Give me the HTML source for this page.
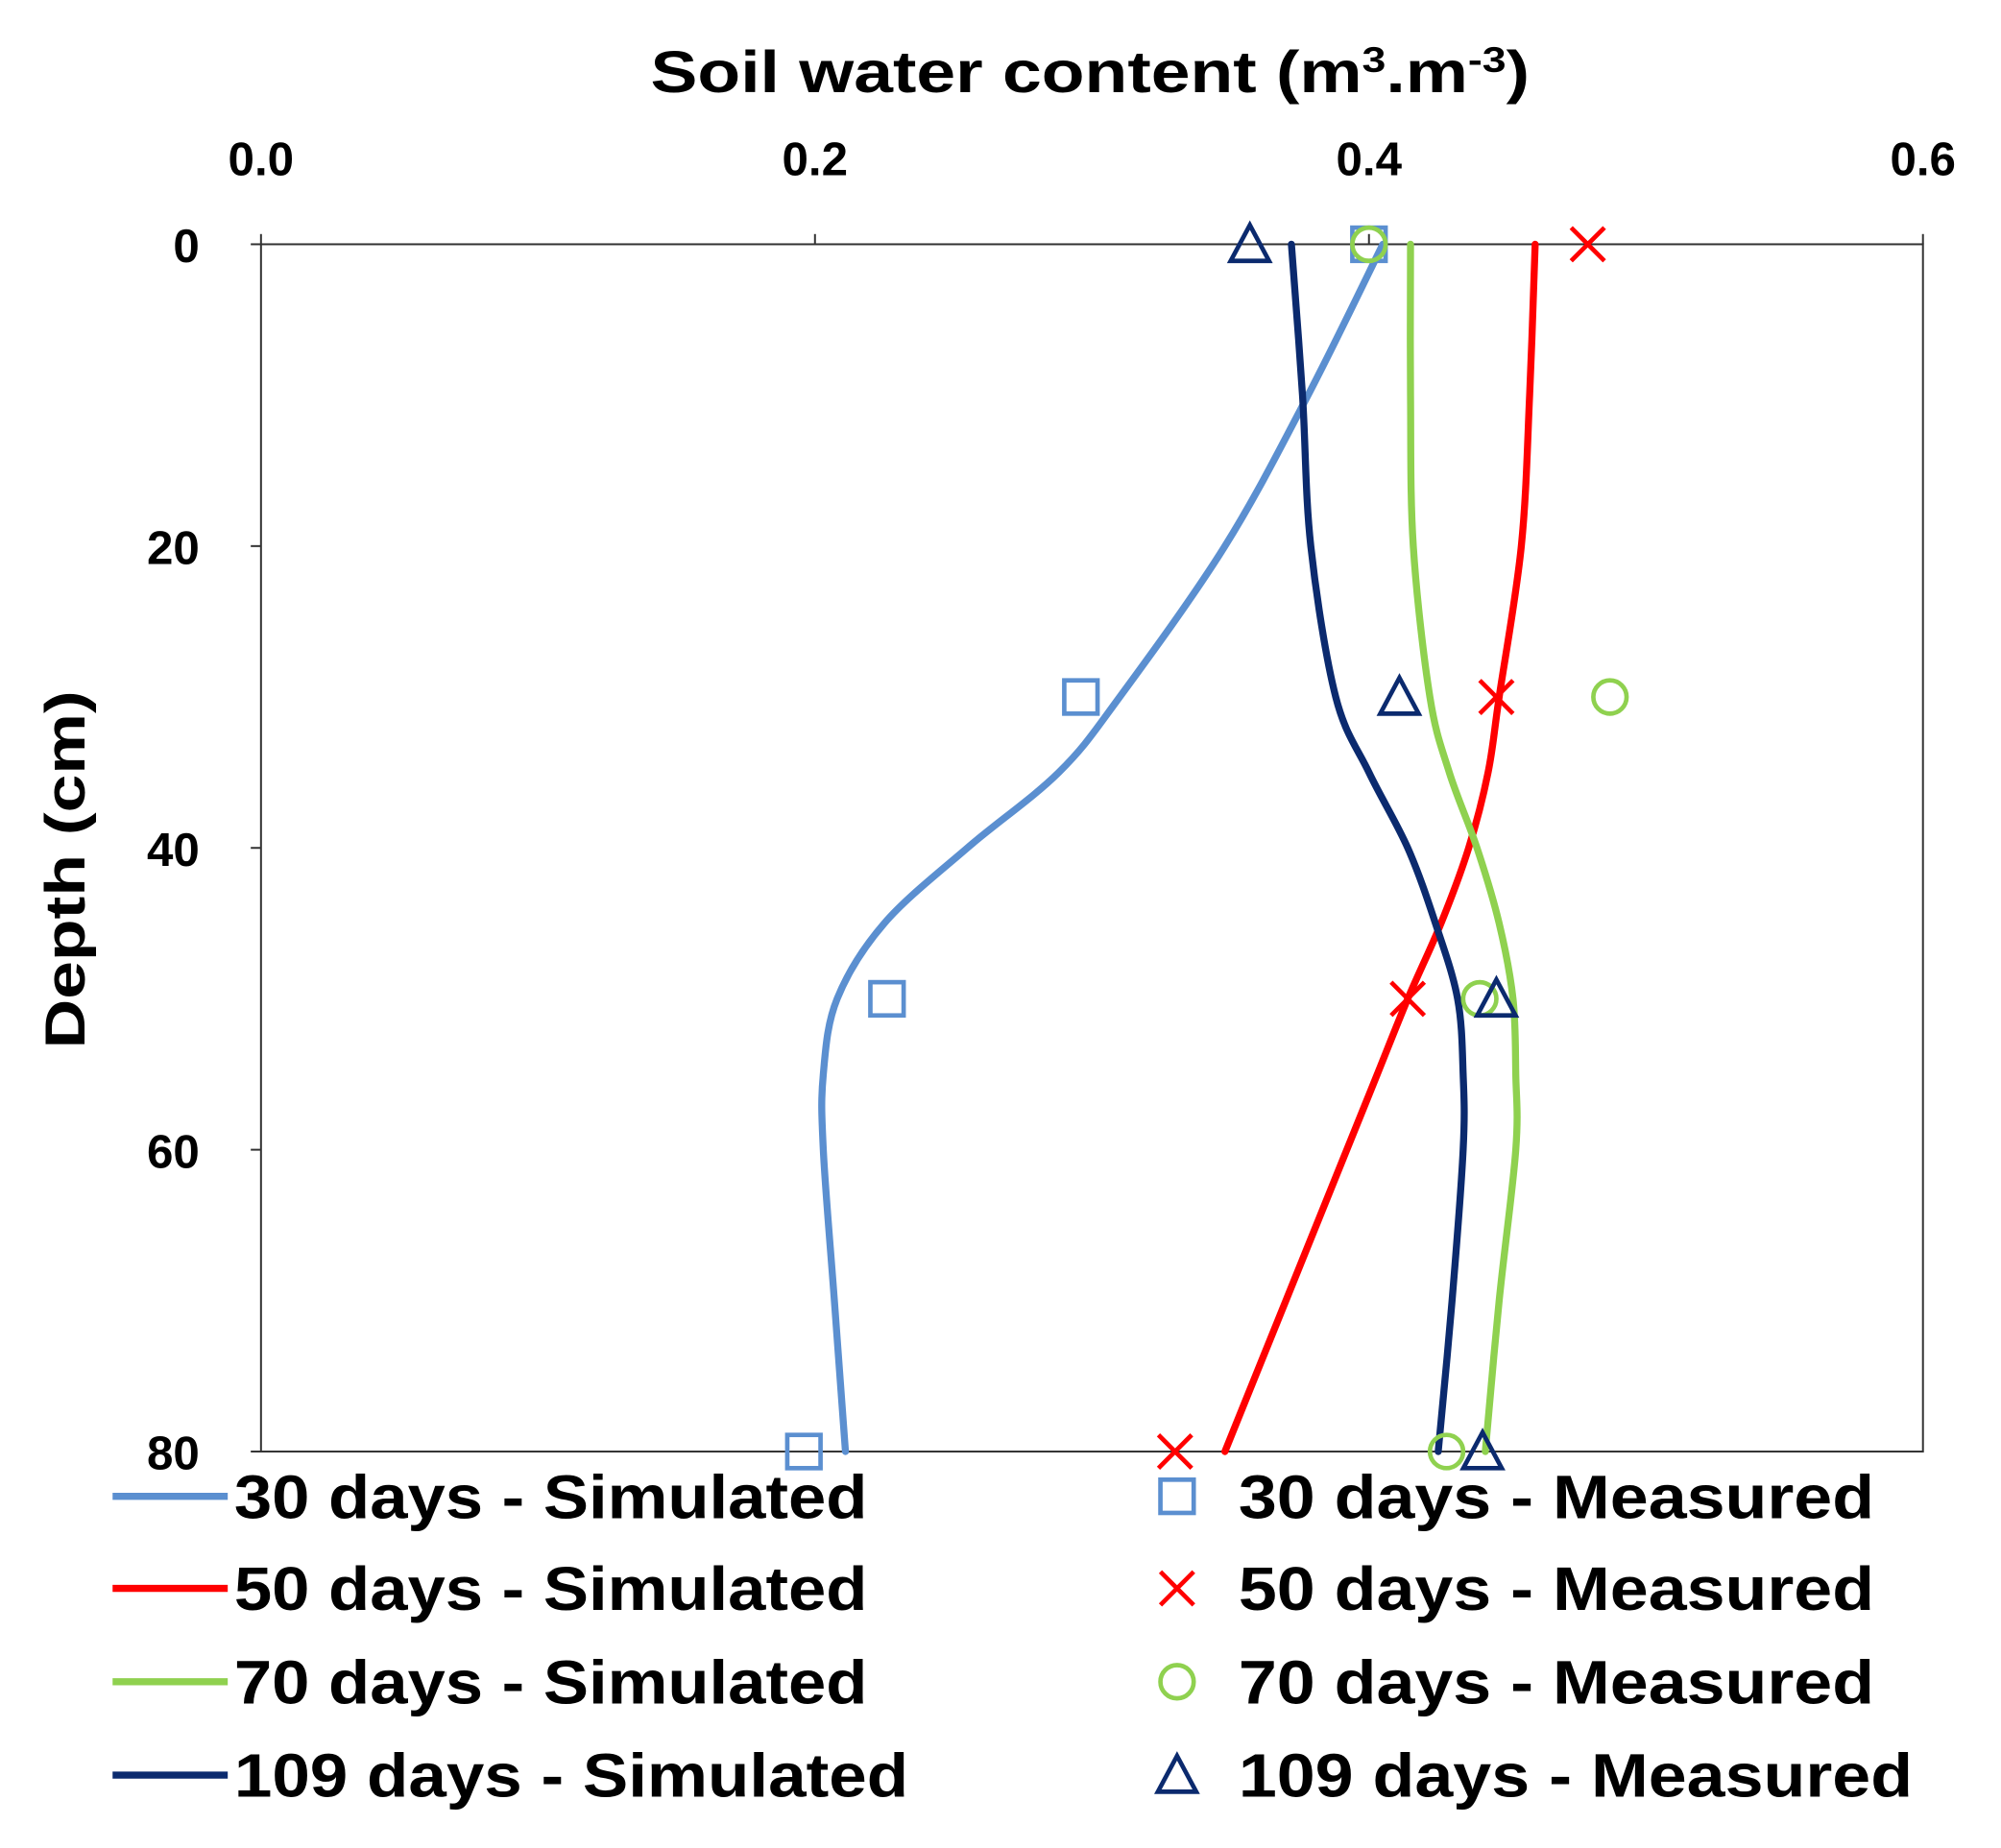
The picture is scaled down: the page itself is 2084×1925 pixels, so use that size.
<!DOCTYPE html>
<html><head><meta charset="utf-8"><style>
html,body{margin:0;padding:0;background:#fff}
svg{display:block}
text{font-family:"Liberation Sans",sans-serif;font-weight:bold;fill:#000}
</style></head><body>
<svg id="chart" width="2084" height="1925" viewBox="0 0 1564 1445" preserveAspectRatio="none" xmlns="http://www.w3.org/2000/svg"></svg>
<script>
const xTicks=[0.0,0.2,0.4,0.6];
const xTickLabels=["0.0","0.2","0.4","0.6"];
const yTicks=[0,20,40,60,80];
const simDepths=[0,10,20,30,35,40,45,50,55,60,70,80];
const sim30=[0.405,0.378,0.348,0.310,0.288,0.255,0.225,0.208,0.203,0.203,0.207,0.211];
const sim50=[0.460,0.458,0.455,0.447,0.443,0.436,0.426,0.414,0.403,0.392,0.370,0.348];
const sim70=[0.415,0.415,0.416,0.422,0.429,0.439,0.447,0.452,0.453,0.453,0.447,0.442];
const sim109=[0.372,0.376,0.379,0.388,0.400,0.414,0.424,0.432,0.434,0.434,0.430,0.425];
const measDepths=[0,30,50,80];
const meas30=[0.400,0.296,0.226,0.196];
const meas50=[0.479,0.446,0.414,0.330];
const meas70=[0.400,0.487,0.440,0.428];
const meas109=[0.357,0.411,0.446,0.441];
const seriesNames=["30 days","50 days","70 days","109 days"];

const L=204,R=1503,T=191,B=1135;
const xs=v=>L+v/0.6*(R-L);
const ys=d=>T+d/80*(B-T);
const NS="http://www.w3.org/2000/svg";
const svg=document.getElementById('chart');
function mk(tag,at,parent){const e=document.createElementNS(NS,tag);for(const k in at)e.setAttribute(k,at[k]);(parent||svg).appendChild(e);return e;}

const frame=mk('rect',{x:L,y:T,width:R-L,height:B-T,fill:'none',stroke:'#333',"stroke-width":1.5});


xTicks.forEach((v,i)=>{
  const t=mk('line',{x1:xs(v),x2:xs(v),y1:T-8,y2:T,stroke:'#333',"stroke-width":1.5});
  
  
  const lb=mk('text',{x:xs(v),y:137,"font-size":37,"text-anchor":"middle"});
  lb.textContent=xTickLabels[i];
  
  
});
yTicks.forEach(d=>{
  const t=mk('line',{x1:L-8,x2:L,y1:ys(d),y2:ys(d),stroke:'#333',"stroke-width":1.5});
  
  
  const lb=mk('text',{x:156,y:ys(d)+14,"font-size":37,"text-anchor":"end"});
  lb.textContent=String(d);
  
  
});
const xt=mk('text',{x:852,y:72,"font-size":46,"text-anchor":"middle",textLength:687,lengthAdjust:"spacingAndGlyphs"});
xt.innerHTML='Soil water content (m<tspan baseline-shift="super" font-size="28">3</tspan>.m<tspan baseline-shift="super" font-size="28">-3</tspan>)';


const yt=mk('text',{x:0,y:0,"font-size":44,"text-anchor":"middle",transform:"translate(66,680) rotate(-90)",textLength:280,lengthAdjust:"spacingAndGlyphs"});
yt.textContent='Depth (cm)';



function smoothPath(vals){
  const p=vals.map((v,i)=>[xs(v),ys(simDepths[i])]);
  let d=`M${p[0][0]},${p[0][1]}`;
  for(let i=0;i<p.length-1;i++){
    const p0=p[i-1]||p[i],p1=p[i],p2=p[i+1],p3=p[i+2]||p[i+1];
    const c1=[p1[0]+(p2[0]-p0[0])/6,p1[1]+(p2[1]-p0[1])/6];
    const c2=[p2[0]-(p3[0]-p1[0])/6,p2[1]-(p3[1]-p1[1])/6];
    d+=` C${c1[0]},${c1[1]} ${c2[0]},${c2[1]} ${p2[0]},${p2[1]}`;
  }
  return d;
}
const colors=['#5b8fd0','#ff0000','#8fd14f','#0b2a6e'];
[sim30,sim50,sim70,sim109].forEach((s,i)=>{
  const pth=mk('path',{d:smoothPath(s),fill:'none',stroke:colors[i],"stroke-width":5.5,"stroke-linecap":"round"});
  
  
});
function marker(kind,cx,cy,color,g){
  if(kind===0) return mk('rect',{x:cx-13,y:cy-13,width:26,height:26,fill:'none',stroke:color,"stroke-width":3.5},g);
  if(kind===1) return mk('path',{d:`M${cx-13},${cy-13}L${cx+13},${cy+13}M${cx-13},${cy+13}L${cx+13},${cy-13}`,stroke:color,"stroke-width":3.5,fill:'none'},g);
  if(kind===2) return mk('circle',{cx:cx,cy:cy,r:13,fill:'none',stroke:color,"stroke-width":3.5},g);
  return mk('path',{d:`M${cx},${cy-15}L${cx+15},${cy+13}L${cx-15},${cy+13}Z`,fill:'none',stroke:color,"stroke-width":3.5},g);
}
[meas30,meas50,meas70,meas109].forEach((s,i)=>{
  s.forEach((v,j)=>{
    const m=marker(i,xs(v),ys(measDepths[j]),colors[i]);
    
    
  });
});
const legY=[1170,1242,1315,1388];
const simLen=[495,495,495,527];
const measLen=[497,497,497,527];
seriesNames.forEach((n,i)=>{
  const ln=mk('line',{x1:88,x2:178,y1:legY[i],y2:legY[i],stroke:colors[i],"stroke-width":5.5});
  
  
  const t1=mk('text',{x:183,y:legY[i]+17,"font-size":48,textLength:simLen[i],lengthAdjust:"spacingAndGlyphs"});
  t1.textContent=n+' - Simulated';
  
  
  const m=marker(i,920,legY[i],colors[i]);
  
  
  const t2=mk('text',{x:968,y:legY[i]+17,"font-size":48,textLength:measLen[i],lengthAdjust:"spacingAndGlyphs"});
  t2.textContent=n+' - Measured';
  
  
});
</script>
</body></html>
